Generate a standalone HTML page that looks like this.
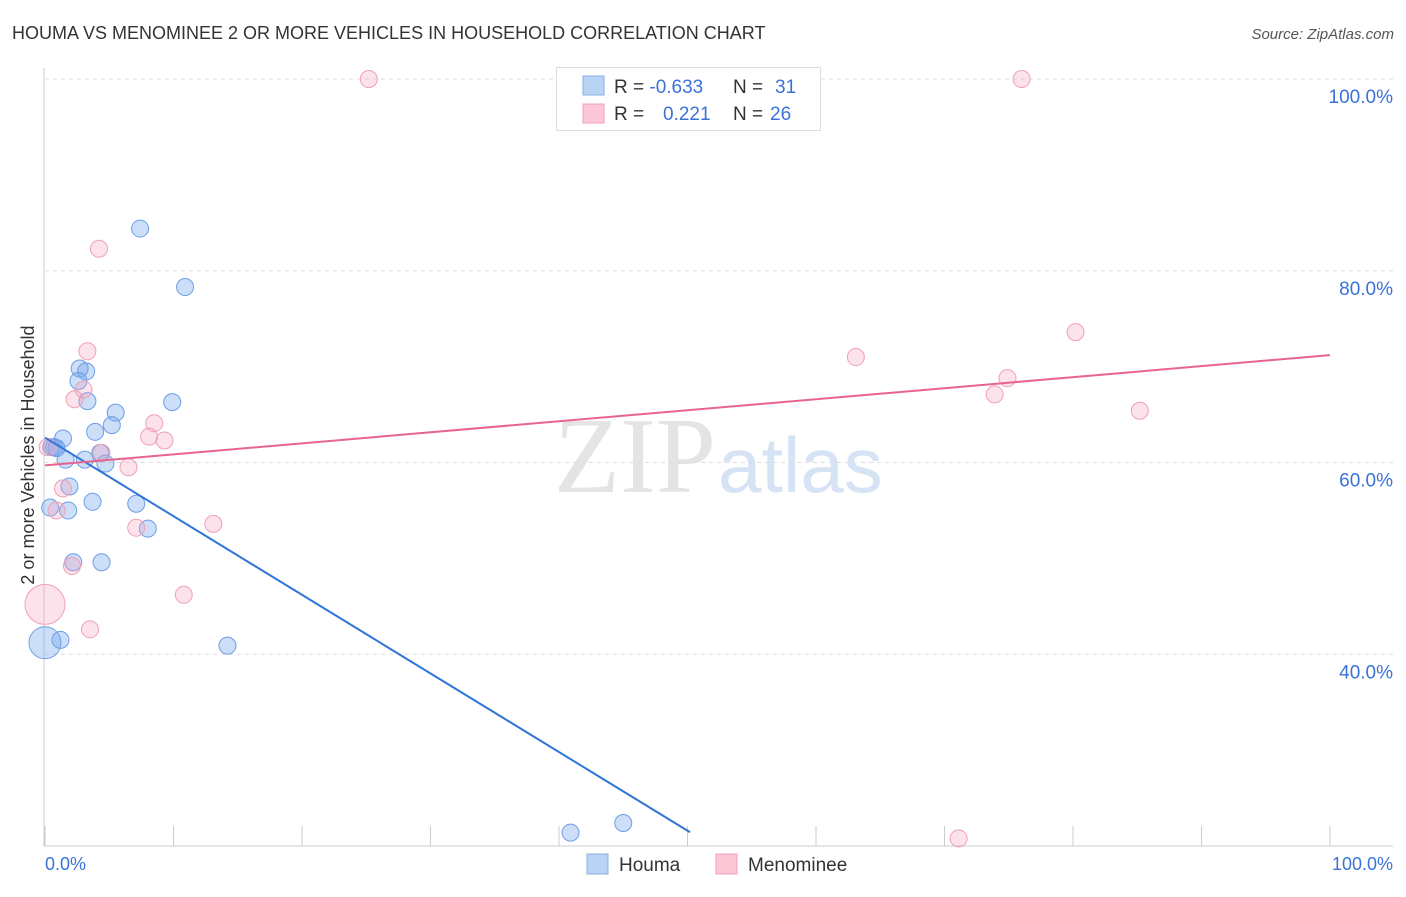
<!DOCTYPE html>
<html><head><meta charset="utf-8"><style>
body{margin:0;background:#fff;font-family:"Liberation Sans",sans-serif}
</style></head><body>
<svg width="1406" height="892" xmlns="http://www.w3.org/2000/svg">
<text x="12" y="39" font-size="18" fill="#333">HOUMA VS MENOMINEE 2 OR MORE VEHICLES IN HOUSEHOLD CORRELATION CHART</text>
<text x="1394" y="39" font-size="15" fill="#555" font-style="italic" text-anchor="end">Source: ZipAtlas.com</text>
<text x="716" y="492" font-size="108" fill="#e4e4e4" text-anchor="end" font-family="Liberation Serif,serif">ZIP</text>
<text x="718" y="492" font-size="78" fill="#d6e3f5">atlas</text>
<g id="grid"></g>
<g id="marks"></g>
<text transform="translate(34,455) rotate(-90)" font-size="18" fill="#333" text-anchor="middle">2 or more Vehicles in Household</text>
<text x="45" y="870" font-size="18" fill="#3a72d8">0.0%</text>
<text x="1393" y="870" font-size="18" fill="#3a72d8" text-anchor="end">100.0%</text>
<g>
<rect x="556.5" y="67.5" width="264" height="63" fill="#fff" stroke="#ddd"/>
<rect x="583" y="76" width="21" height="19" fill="#b9d3f5" stroke="#88aee6"/>
<rect x="583" y="104" width="21" height="19" fill="#fcc8d8" stroke="#f0a0b8"/>
<text x="614" y="93" font-size="19" fill="#333">R = <tspan fill="#3a72d8">-0.633</tspan><tspan x="733">N = </tspan><tspan x="775" fill="#3a72d8">31</tspan></text>
<text x="614" y="120" font-size="19" fill="#333">R = <tspan x="663" fill="#3a72d8">0.221</tspan><tspan x="733">N = </tspan><tspan x="770" fill="#3a72d8">26</tspan></text>
</g>
<g>
<rect x="587" y="854" width="21" height="20" fill="#b9d3f5" stroke="#88aee6"/>
<text x="619" y="871" font-size="19" fill="#333">Houma</text>
<rect x="716" y="854" width="21" height="20" fill="#fcc8d8" stroke="#f0a0b8"/>
<text x="748" y="871" font-size="19" fill="#333">Menominee</text>
</g>
</svg>
<script>
const yTicks=[40,60,80,100];
const blueX=[7.4,10.9,2.7,3.2,2.6,3.3,9.9,5.5,5.2,3.9,1.4,0.5,0.9,4.3,3.1,1.6,4.7,1.9,3.7,7.1,0.4,1.8,8.0,2.2,4.4,14.2,1.2,0,40.9,45.0,0.7];
const blueY=[84.4,78.3,69.8,69.5,68.5,66.4,66.3,65.2,63.9,63.2,62.5,61.6,61.5,61.0,60.3,60.3,59.9,57.5,55.9,55.7,55.3,55.0,53.1,49.6,49.6,40.9,41.5,41.2,21.4,22.4,61.6];
const blueR=[8.5,8.5,8.5,8.5,8.5,8.5,8.5,8.5,8.5,8.5,8.5,8.5,8.5,8.5,8.5,8.5,8.5,8.5,8.5,8.5,8.5,8.5,8.5,8.5,8.5,8.5,8.5,16,8.5,8.5,8.5];
const pinkX=[25.2,76.0,4.2,3.3,63.1,80.2,3.0,74.9,73.9,2.3,85.2,8.5,8.1,9.3,4.4,6.5,1.4,0.9,7.1,13.1,2.1,10.8,3.5,0,71.1,0.2];
const pinkY=[100,100,82.3,71.6,71.0,73.6,67.6,68.8,67.1,66.6,65.4,64.1,62.7,62.3,61.0,59.5,57.3,55.0,53.2,53.6,49.2,46.2,42.6,45.2,20.8,61.6];
const pinkR=[8.5,8.5,8.5,8.5,8.5,8.5,8.5,8.5,8.5,8.5,8.5,8.5,8.5,8.5,8.5,8.5,8.5,8.5,8.5,8.5,8.5,8.5,8.5,20,8.5,8.5];
const blueTrend=[62.6,-0.82];
const blueTrendEndX=50.2;
const pinkTrend=[59.7,0.115];
const NS='http://www.w3.org/2000/svg';
const sx=v=>45+v*12.85, sy=v=>79+(100-v)*9.5875;
function mk(t,a,p){const e=document.createElementNS(NS,t);for(const k in a)e.setAttribute(k,a[k]);p.appendChild(e);return e;}
const g=document.getElementById('grid'), m=document.getElementById('marks');
yTicks.forEach(t=>{
 const l=mk('line',{x1:45,x2:1393,y1:sy(t),y2:sy(t),stroke:'#ddd','stroke-dasharray':'4,4'},g);
 
 
 const tx=mk('text',{x:1393,y:sy(t)+24,'font-size':19,fill:'#3a72d8','text-anchor':'end'},g);
 tx.textContent=t.toFixed(1)+'%';
 
 
});
const ax=mk('line',{x1:44,x2:44,y1:68,y2:846,stroke:'#ccc'},g);


const bx=mk('line',{x1:44,x2:1393,y1:846,y2:846,stroke:'#ccc'},g);


for(let i=0;i<=10;i++){const t=mk('line',{x1:sx(i*10),x2:sx(i*10),y1:826,y2:846,stroke:'#ccc'},g);
 
 }
blueX.forEach((x,i)=>{const c=mk('circle',{cx:sx(x),cy:sy(blueY[i]),r:blueR[i],fill:'rgba(110,160,235,0.35)',stroke:'#6d9ee6','stroke-width':1},m);
 
 });
pinkX.forEach((x,i)=>{const c=mk('circle',{cx:sx(x),cy:sy(pinkY[i]),r:pinkR[i],fill:'rgba(245,160,190,0.3)',stroke:'#f0a0b8','stroke-width':1},m);
 
 });
const bl=mk('line',{x1:sx(0),y1:sy(blueTrend[0]),x2:sx(blueTrendEndX),y2:sy(blueTrend[0]+blueTrend[1]*blueTrendEndX),stroke:'#2f74d8','stroke-width':2},m);


const pl=mk('line',{x1:sx(0),y1:sy(pinkTrend[0]),x2:sx(100),y2:sy(pinkTrend[0]+pinkTrend[1]*100),stroke:'#e8648e','stroke-width':2},m);


</script>
</body></html>
